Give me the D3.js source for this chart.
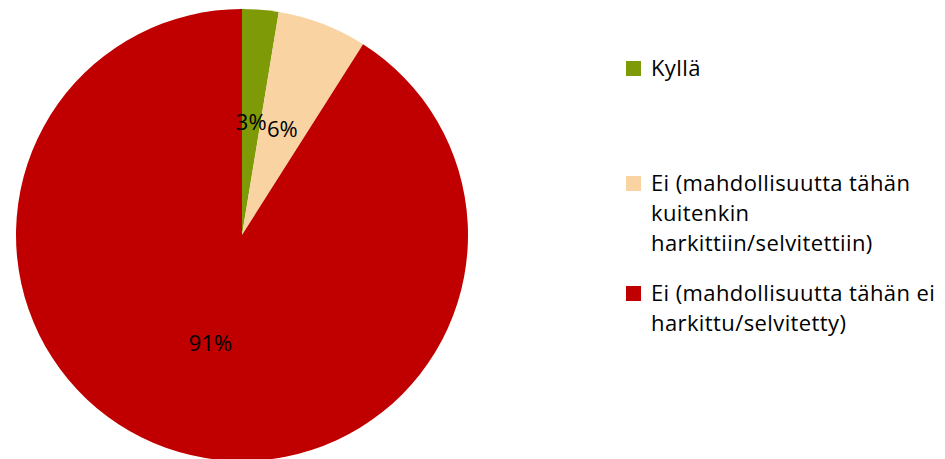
<!DOCTYPE html>
<html><head><meta charset="utf-8">
<script src="https://cdn.jsdelivr.net/npm/d3@7"></script>
<style>body{margin:0;background:#fff}svg{display:block}</style>
</head><body>
<svg id="c" width="945" height="459"></svg>
<script>
const categories = ["Kyllä", "Ei (mahdollisuutta tähän kuitenkin harkittiin/selvitettiin)", "Ei (mahdollisuutta tähän ei harkittu/selvitetty)"];
const values = [2.6, 6.4, 91.0];
const labels = ["3%", "6%", "91%"];
const colors = ["#7F9A07", "#FAD3A3", "#C00000"];
const legendLines = [["Kyllä"], ["Ei (mahdollisuutta tähän", "kuitenkin", "harkittiin/selvitettiin)"], ["Ei (mahdollisuutta tähän ei", "harkittu/selvitetty)"]];

const svg = d3.select("#c");
const font = "'Open Sans', Lato, sans-serif";
const cx = 242, cy = 235, R = 226;
const pie = d3.pie().sort(null).value(d => d)(values);
const arc = d3.arc().innerRadius(0).outerRadius(R);
const labelArc = d3.arc().innerRadius(R * 0.5).outerRadius(R * 0.5);
const g = svg.append("g").attr("transform", `translate(${cx},${cy})`);
g.selectAll("path").data(pie).join("path").attr("d", arc).attr("fill", (d, i) => colors[i]);
g.selectAll("text").data(pie).join("text")
  .attr("transform", d => `translate(${labelArc.centroid(d)})`)
  .attr("text-anchor", "middle").attr("dy", "0.35em")
  .attr("font-family", font).attr("font-size", 22).attr("fill", "#000")
  .text((d, i) => labels[i]);

const legendY = [68, 183, 293];
const lg = svg.append("g");
legendLines.forEach((lines, i) => {
  lg.append("rect").attr("x", 626).attr("y", legendY[i] - 7).attr("width", 15).attr("height", 15).attr("fill", colors[i]);
  lines.forEach((t, j) => {
    lg.append("text").attr("x", 651).attr("y", legendY[i] + j * 30).attr("dy", "0.35em")
      .attr("font-family", font).attr("font-size", 22).attr("letter-spacing", 0.4).attr("fill", "#000").text(t);
  });
});
</script>
</body></html>
